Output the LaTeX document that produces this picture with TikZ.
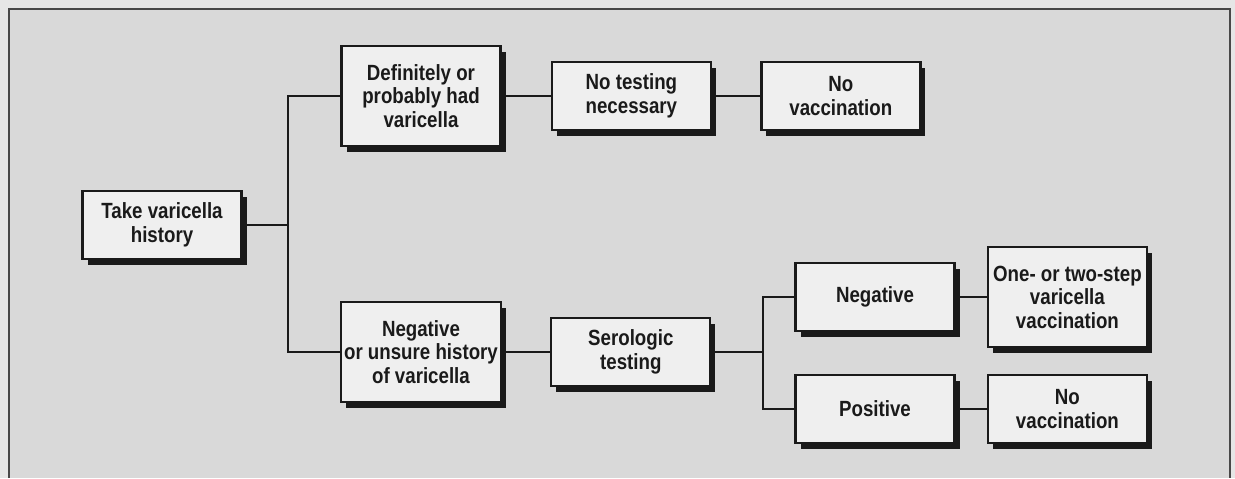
\documentclass[tikz,border=0pt]{standalone}
\usepackage{fontspec}
\setmainfont{Liberation Sans}[FakeStretch=0.85]
\usepackage{tikz}
\usetikzlibrary{positioning,shadows}
\definecolor{pagegray}{HTML}{E6E6E6}
\definecolor{panelgray}{HTML}{D9D9D9}
\definecolor{boxfill}{HTML}{EFEFEF}
\definecolor{inkgray}{HTML}{1A1A1A}

\begin{document}
\begin{tikzpicture}[x=1pt, y=-1pt,
every node/.style={font=\bfseries\fontsize{22}{23.5}\selectfont, text=inkgray},
box/.style={draw=inkgray, line width=2.4pt, fill=boxfill, align=center,
  minimum width=159pt, minimum height=68pt, inner sep=3pt,
  drop shadow={shadow xshift=5pt, shadow yshift=-6pt, fill=inkgray, opacity=1}},
tallbox/.style={box, minimum height=100pt},
link/.style={draw=inkgray, line width=2.2pt}
]
  \fill[pagegray] (0,0) rectangle (1235,478);
  \fill[panelgray] (9,9) rectangle (1230,478);
  \draw[inkgray!80, line width=1.5pt] (9,478) -- (9,9) -- (1230,9) -- (1230,478);
  \useasboundingbox (0,0) rectangle (1235,478);

  \node[box] (take) at (162,225) {Take varicella\\history};
  \node[tallbox] (def) at (421,96) {Definitely or\\probably had\\varicella};
  \node[box, right=49pt of def] (notest) {No testing\\necessary};
  \node[box, right=48pt of notest] (novacA) {No\\vaccination};
  \node[tallbox] (neg) at (421,352) {Negative\\or unsure history\\of varicella};
  \node[box, right=48pt of neg] (sero) {Serologic\\testing};
  \node[box] (negres) at (875,297) {Negative};
  \node[tallbox, right=31pt of negres] (onetwo) {One- or two-step\\varicella\\vaccination};
  \node[box] (posres) at (875,409) {Positive};
  \node[box, right=31pt of posres] (novacB) {No\\vaccination};

  \coordinate (forkA) at (288,225);
  \coordinate (forkB) at (763,352);
  \draw[link] (take) -- (forkA);
  \draw[link] (def) -| (forkA);
  \draw[link] (neg) -| (forkA);
  \draw[link] (def) -- (notest);
  \draw[link] (notest) -- (novacA);
  \draw[link] (neg) -- (sero);
  \draw[link] (sero) -- (forkB);
  \draw[link] (negres) -| (forkB);
  \draw[link] (posres) -| (forkB);
  \draw[link] (negres) -- (onetwo);
  \draw[link] (posres) -- (novacB);
\end{tikzpicture}
\end{document}
